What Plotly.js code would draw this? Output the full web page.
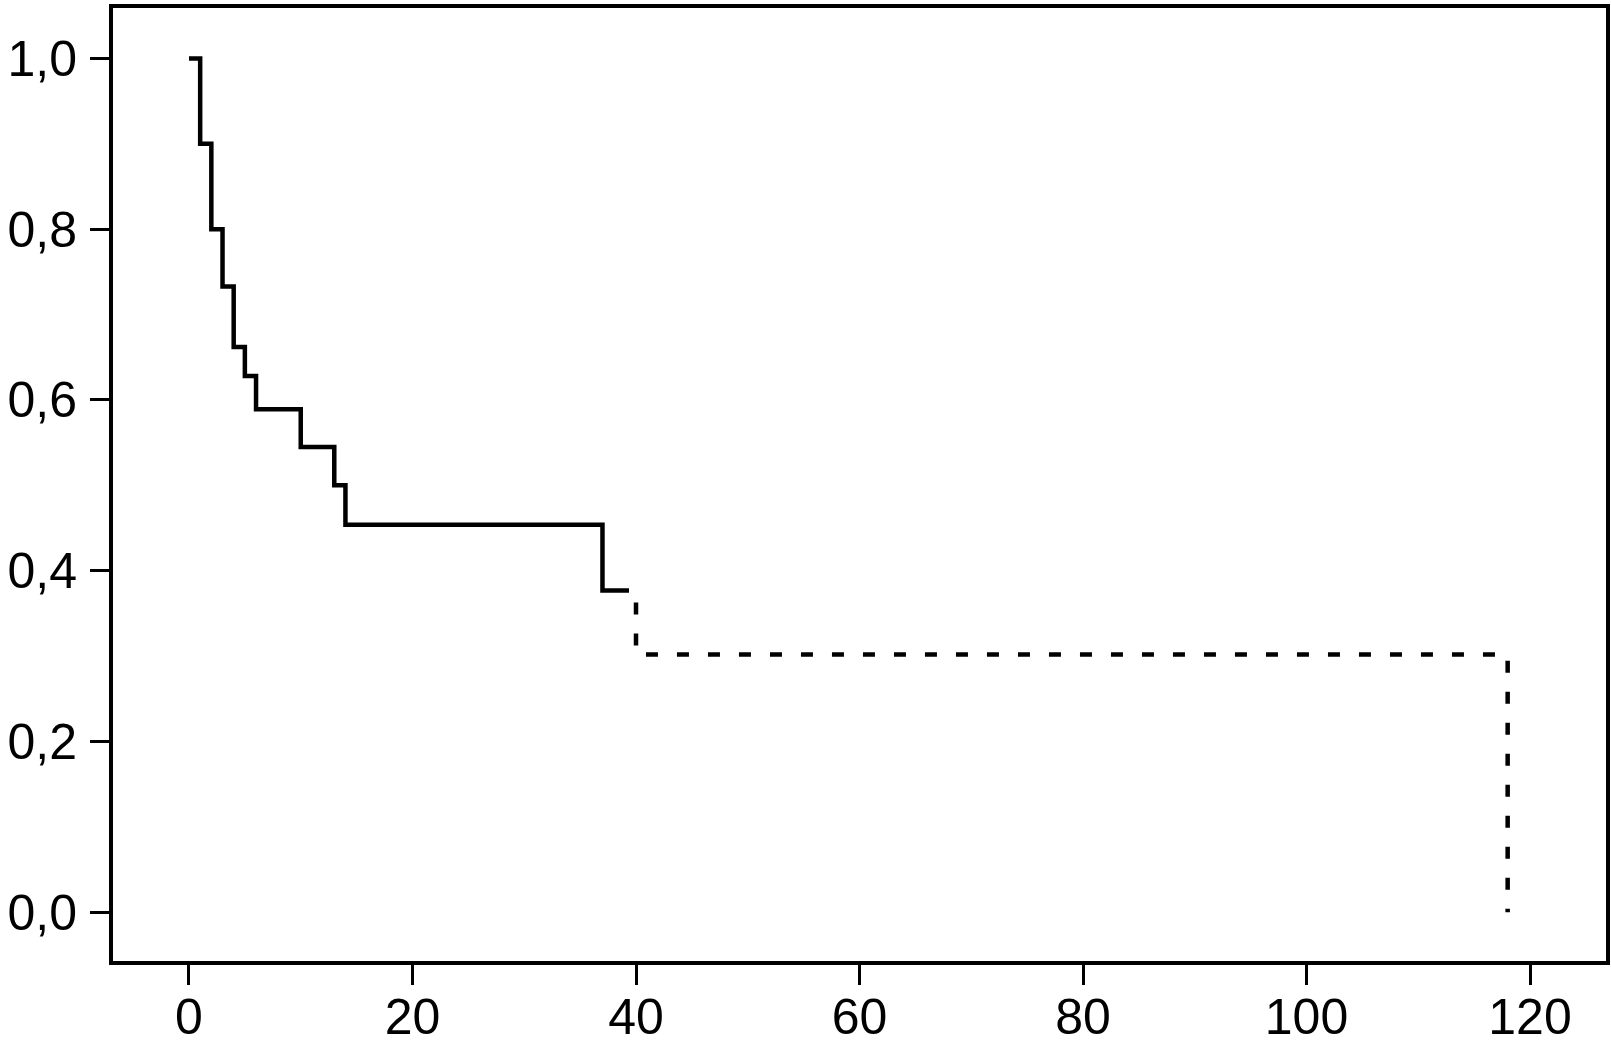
<!DOCTYPE html>
<html>
<head>
<meta charset="utf-8">
<script src="https://cdn.plot.ly/plotly-3.0.1.min.js"></script>
<style>html,body{margin:0;padding:0;background:#fff;}#chart{width:1611px;height:1049px;}</style>
</head>
<body>
<div id="chart"></div>
<script>
// Kaplan-Meier style survival estimates
const solidTimes = [0, 1, 2, 3, 4, 5, 6, 10, 13, 14, 37, 38.3];
const solidSurv  = [1.0, 0.90, 0.80, 0.733, 0.662, 0.628, 0.589, 0.545, 0.50, 0.454, 0.377, 0.377];
const dashTimes  = [38.3, 40, 118];
const dashSurv   = [0.377, 0.302, 0.0];
const xTicks = [0, 20, 40, 60, 80, 100, 120];
const yTicks = [0, 0.2, 0.4, 0.6, 0.8, 1.0];
const yTickLabels = ["0,0", "0,2", "0,4", "0,6", "0,8", "1,0"];

const traces = [
  {x: solidTimes, y: solidSurv, mode: 'lines', line: {shape: 'hv', color: '#000', width: 4.5}, hoverinfo: 'skip'},
  {x: dashTimes, y: dashSurv, mode: 'lines', line: {shape: 'hv', color: '#000', width: 4.5, dash: '12px,19px'}, hoverinfo: 'skip'}
];

const font = {family: 'Liberation Sans, Arial, Helvetica, sans-serif', size: 50, color: '#000'};
const layout = {
  width: 1611, height: 1049,
  margin: {l: 113, r: 5, t: 8, b: 88, pad: 0},
  paper_bgcolor: '#fff', plot_bgcolor: '#fff',
  showlegend: false,
  xaxis: {
    range: [-6.8, 126.8], tickvals: xTicks, ticktext: xTicks.map(String),
    showgrid: false, zeroline: false,
    showline: true, mirror: true, linecolor: '#000', linewidth: 4,
    ticks: 'outside', ticklen: 20, tickwidth: 3, tickcolor: '#000',
    tickfont: font, ticklabelstandoff: -11
  },
  yaxis: {
    range: [-0.057, 1.059], tickvals: yTicks, ticktext: yTickLabels,
    showgrid: false, zeroline: false,
    showline: true, mirror: true, linecolor: '#000', linewidth: 4,
    ticks: 'outside', ticklen: 19, tickwidth: 3, tickcolor: '#000',
    tickfont: font, ticklabelstandoff: 3
  }
};
Plotly.newPlot('chart', traces, layout, {displayModeBar: false, staticPlot: true});
</script>
</body>
</html>
